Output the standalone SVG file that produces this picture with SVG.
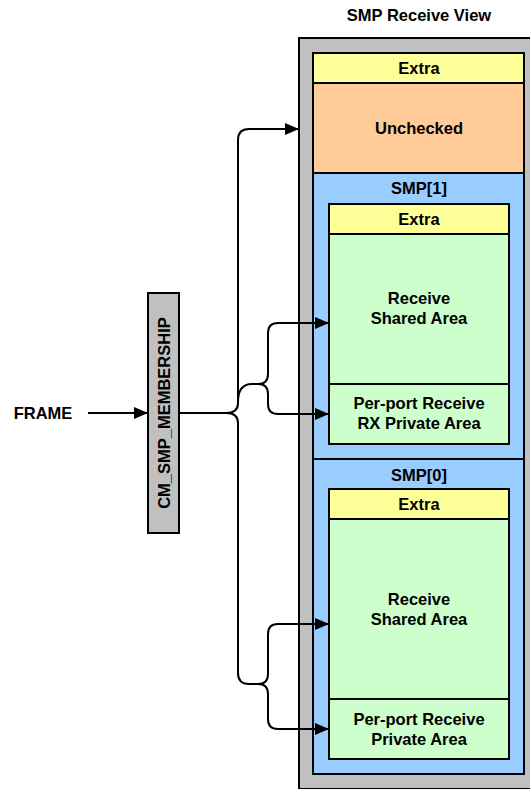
<svg xmlns="http://www.w3.org/2000/svg" width="530" height="789" viewBox="0 0 530 789">
<defs>
<style>
.box{stroke:#000;stroke-width:2}
.gray{fill:#c0c0c0}.yel{fill:#ffff99}.org{fill:#ffcc99}.blu{fill:#99ccff}.grn{fill:#ccffcc}
text{font-family:"Liberation Sans",Arial,sans-serif;font-weight:bold;font-size:16.5px;fill:#000;text-anchor:middle}
.conn{fill:none;stroke:#000;stroke-width:2}
</style>
<marker id="arr" viewBox="0 0 14 12" refX="14" refY="6" markerWidth="14" markerHeight="12" markerUnits="userSpaceOnUse" orient="auto">
<path d="M0,0 L14,6 L0,12 Z" fill="#000"/>
</marker>
</defs>
<rect width="530" height="789" fill="#fff"/>
<text x="419" y="21">SMP Receive View</text>
<g id="view">
<rect class="box gray" x="299" y="38" width="240" height="751"/>
</g>
<g id="extra-top"><rect class="box yel" x="313" y="53" width="211" height="30"/><text x="419" y="74">Extra</text></g>
<g id="unchecked"><rect class="box org" x="313" y="83" width="211" height="90"/><text x="419" y="134">Unchecked</text></g>
<g id="smp1">
<rect class="box blu" x="313" y="173" width="211" height="286"/><text x="419" y="194">SMP[1]</text>
</g>
<g id="smp1-extra"><rect class="box yel" x="329" y="204" width="180" height="30"/><text x="419" y="225">Extra</text></g>
<g id="smp1-shared"><rect class="box grn" x="329" y="234" width="180" height="150"/><text x="419" y="304">Receive</text><text x="419" y="324">Shared Area</text></g>
<g id="smp1-private"><rect class="box grn" x="329" y="384" width="180" height="60"/><text x="419" y="409">Per-port Receive</text><text x="419" y="429">RX Private Area</text></g>
<g id="smp0">
<rect class="box blu" x="313" y="459" width="211" height="315"/><text x="419" y="481">SMP[0]</text>
</g>
<g id="smp0-extra"><rect class="box yel" x="329" y="489" width="180" height="30"/><text x="419" y="510">Extra</text></g>
<g id="smp0-shared"><rect class="box grn" x="329" y="519" width="180" height="180"/><text x="419" y="605">Receive</text><text x="419" y="625">Shared Area</text></g>
<g id="smp0-private"><rect class="box grn" x="329" y="699" width="180" height="60"/><text x="419" y="725">Per-port Receive</text><text x="419" y="745">Private Area</text></g>
<g id="frame"><text x="43" y="419">FRAME</text></g>
<g id="membership"><rect class="box gray" x="148" y="293" width="31" height="240"/><text transform="translate(169.5,413) rotate(-90)" x="0" y="0">CM_SMP_MEMBERSHIP</text></g>
<g id="connectors">
<path class="conn" d="M88,413 H148" marker-end="url(#arr)"/>
<path class="conn" d="M179,413 H226 C234,413 238,410 238,403 V140 Q238,129 249,129 H299" marker-end="url(#arr)"/>
<path class="conn" d="M226,413 C234,413 238,416 238,423 V673 Q238,684 249,684 H258 Q268,684 268,694 V719 Q268,729 278,729 H329" marker-end="url(#arr)"/>
<path class="conn" d="M258,684 Q268,684 268,674 V634 Q268,624 278,624 H329" marker-end="url(#arr)"/>
<path class="conn" d="M238,402 Q238,384 252,384 H258 Q268,384 268,374 V333 Q268,323 278,323 H329" marker-end="url(#arr)"/>
<path class="conn" d="M258,384 Q268,384 268,394 V404 Q268,414 278,414 H329" marker-end="url(#arr)"/>
</g>
</svg>
